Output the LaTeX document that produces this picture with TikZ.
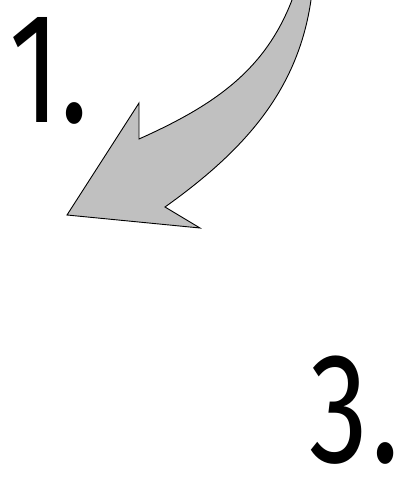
\documentclass[tikz,border=0pt]{standalone}
\usepackage{fontspec}
\setmainfont[FakeStretch=0.75]{Fira Sans}
\usepackage{tikz}
\usetikzlibrary{positioning}
\definecolor{arrowgray}{RGB}{192,192,192}

\begin{document}
\begin{tikzpicture}[x=1pt, y=-1pt,
    numeral/.style={inner sep=0pt, anchor=base west, font=\fontsize{157}{157}\selectfont},
    bigarrow/.style={draw=black, line width=0.9pt, fill=arrowgray, line join=miter}]

    % ============================================================
    % CANVAS
    % ============================================================
    \useasboundingbox (0,0) rectangle (406,477);

    % ============================================================
    % STEP LABELS
    % ============================================================
    \node[numeral] (one) at (9,122) {1.};
    \node[numeral] (three) at (309,462) {3\kern4pt.};

    % ============================================================
    % CURVED ARROW
    % ============================================================
    \draw[bigarrow]
        (292,0) .. controls (265,70) and (215,105) .. (139,139)
        -- (139,103) -- (67,215) -- (200,228) -- (165,207)
        .. controls (245,150) and (298,90) .. (311,0);

\end{tikzpicture}
\end{document}
